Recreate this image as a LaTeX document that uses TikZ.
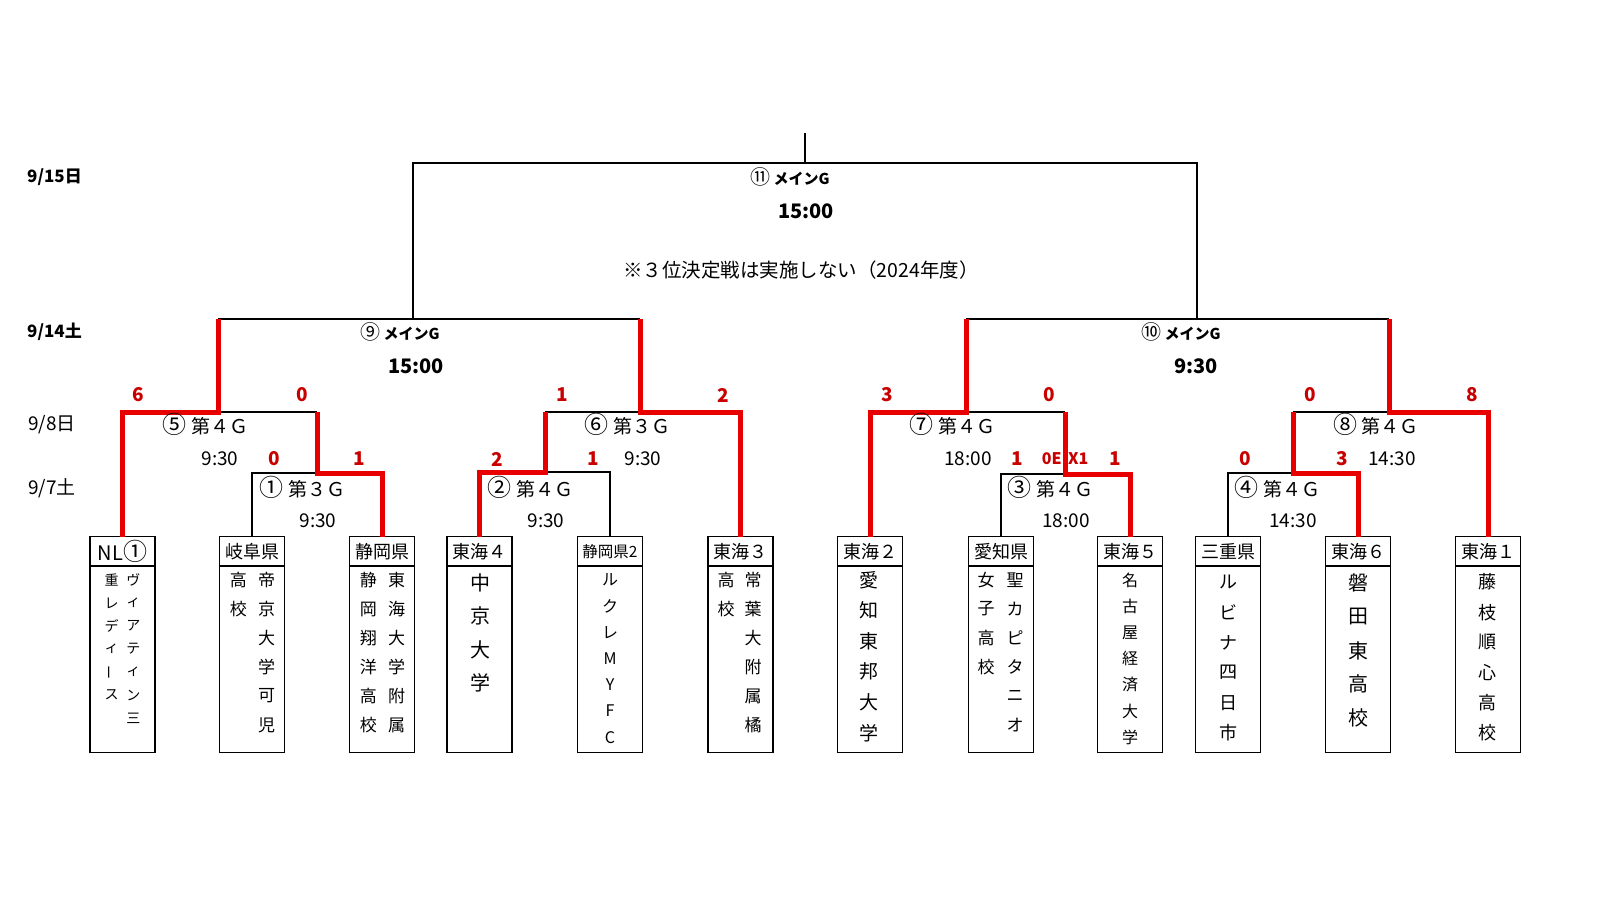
\documentclass[tikz,border=0pt]{standalone}
\usepackage{fontspec}
\setmainfont{Noto Sans CJK JP}
\usetikzlibrary{positioning}
\definecolor{winred}{RGB}{232,0,0}
\definecolor{scorered}{RGB}{200,0,0}
\newcommand{\gno}[2]{{\mdseries\fontsize{#1}{#1}\selectfont #2}}

\begin{document}
\begin{tikzpicture}[x=1pt,y=-1pt,
    lose/.style={line width=1.6pt},
    win/.style={winred,line width=5pt,line join=miter},
    teamhead/.style={draw,line width=1.6pt,minimum width=65pt,minimum height=29.3pt,inner sep=0pt,outer sep=0pt,font=\fontsize{18}{18}\selectfont},
    teambody/.style={draw,line width=1.6pt,minimum width=65pt,minimum height=186.7pt,inner sep=0pt,outer sep=0pt,below=0pt of #1},
    kana/.style={inner sep=0pt,font=\fontsize{#1}{#1}\selectfont},
    score/.style={inner sep=0pt,text=scorered,font=\bfseries\fontsize{19}{19}\selectfont},
    game/.style={inner sep=0pt,font=\fontsize{19}{19}\selectfont},
    mainlbl/.style={inner sep=0pt,font=\bfseries\fontsize{15}{15}\selectfont},
    maintime/.style={inner sep=0pt,font=\bfseries\fontsize{20}{20}\selectfont}]
    \useasboundingbox (0,0) rectangle (1600,900);

    % dates
    \node[anchor=west,inner sep=0pt,font=\bfseries\fontsize{17}{17}\selectfont] (d15) at (27,177) {9/15日};
    \node[anchor=west,inner sep=0pt,font=\bfseries\fontsize{17}{17}\selectfont] (d14) at (27,332) {9/14土};
    \node[anchor=west,game] (d8) at (28,425) {9/8日};
    \node[anchor=west,game] (d7) at (28,488) {9/7土};

    % teams
    \node[teamhead,font=\fontsize{20}{20}\selectfont] (nl) at (122.5,551.3) {NL\gno{24}{①}};
    \node[teambody=nl] (nl-b) {};
    \node[teamhead] (gifu)  at (252,551.3)  {岐阜県};
    \node[teambody=gifu] (gifu-b) {};
    \node[teamhead] (shz)   at (382,551.3)  {静岡県};
    \node[teambody=shz] (shz-b) {};
    \node[teamhead] (tk4)   at (479.7,551.3) {東海４};
    \node[teambody=tk4] (tk4-b) {};
    \node[teamhead,font=\fontsize{15.5}{15.5}\selectfont] (shz2) at (610,551.3) {静岡県2};
    \node[teambody=shz2] (shz2-b) {};
    \node[teamhead] (tk3)   at (740.3,551.3) {東海３};
    \node[teambody=tk3] (tk3-b) {};
    \node[teamhead] (tk2)   at (870,551.3)  {東海２};
    \node[teambody=tk2] (tk2-b) {};
    \node[teamhead] (aichi) at (1001,551.3) {愛知県};
    \node[teambody=aichi] (aichi-b) {};
    \node[teamhead] (tk5)   at (1130,551.3) {東海５};
    \node[teambody=tk5] (tk5-b) {};
    \node[teamhead] (mie)   at (1228,551.3) {三重県};
    \node[teambody=mie] (mie-b) {};
    \node[teamhead] (tk6)   at (1358,551.3) {東海６};
    \node[teambody=tk6] (tk6-b) {};
    \node[teamhead] (tk1)   at (1488,551.3) {東海１};
    \node[teambody=tk1] (tk1-b) {};

    % team names, written top to bottom
    \foreach \ch [count=\i from 0] in {ヴ,ィ,ア,テ,ィ,ン,三}
        \node[kana=14] (nl-r\i) at (133.3,580+23*\i) {\ch};
    \foreach \ch [count=\i from 0] in {重,レ,デ,ィ,\rotatebox{90}{ー},ス}
        \node[kana=14] (nl-l\i) at (111.7,580+23*\i) {\ch};
    \foreach \ch [count=\i from 0] in {帝,京,大,学,可,児}
        \node[kana=17] (gifu-r\i) at (266.7,580+29*\i) {\ch};
    \foreach \ch [count=\i from 0] in {高,校}
        \node[kana=17] (gifu-l\i) at (238.3,580+29*\i) {\ch};
    \foreach \ch [count=\i from 0] in {東,海,大,学,附,属}
        \node[kana=17] (shz-r\i) at (396.7,580+29*\i) {\ch};
    \foreach \ch [count=\i from 0] in {静,岡,翔,洋,高,校}
        \node[kana=17] (shz-l\i) at (368.3,580+29*\i) {\ch};
    \foreach \ch [count=\i from 0] in {中,京,大,学}
        \node[kana=20] (tk4-c\i) at (480,583+33.3*\i) {\ch};
    \foreach \ch [count=\i from 0] in {ル,ク,レ,M,Y,F,C}
        \node[kana=16] (shz2-c\i) at (610,580+26.2*\i) {\ch};
    \foreach \ch [count=\i from 0] in {常,葉,大,附,属,橘}
        \node[kana=17] (tk3-r\i) at (753,580+29*\i) {\ch};
    \foreach \ch [count=\i from 0] in {高,校}
        \node[kana=17] (tk3-l\i) at (726,580+29*\i) {\ch};
    \foreach \ch [count=\i from 0] in {愛,知,東,邦,大,学}
        \node[kana=19] (tk2-c\i) at (869,580+30.6*\i) {\ch};
    \foreach \ch [count=\i from 0] in {聖,カ,ピ,タ,ニ,オ}
        \node[kana=17] (aichi-r\i) at (1015,580+29*\i) {\ch};
    \foreach \ch [count=\i from 0] in {女,子,高,校}
        \node[kana=17] (aichi-l\i) at (986,580+29*\i) {\ch};
    \foreach \ch [count=\i from 0] in {名,古,屋,経,済,大,学}
        \node[kana=16] (tk5-c\i) at (1130,580+26.2*\i) {\ch};
    \foreach \ch [count=\i from 0] in {ル,ビ,ナ,四,日,市}
        \node[kana=18] (mie-c\i) at (1228,582+30.2*\i) {\ch};
    \foreach \ch [count=\i from 0] in {磐,田,東,高,校}
        \node[kana=20] (tk6-c\i) at (1358,583+33.7*\i) {\ch};
    \foreach \ch [count=\i from 0] in {藤,枝,順,心,高,校}
        \node[kana=18] (tk1-c\i) at (1487,582+30.2*\i) {\ch};

    % junctions
    \coordinate (g1) at (317,473);
    \coordinate (g2) at (545,472);
    \coordinate (g3) at (1065,474);
    \coordinate (g4) at (1293,473);
    \coordinate (g5) at (218,412);
    \coordinate (g6) at (640,412);
    \coordinate (g7) at (966,412);
    \coordinate (g8) at (1389,412);
    \coordinate (g9) at (413,319);
    \coordinate (g10) at (1197,319);
    \coordinate (g11) at (805,163);
    \coordinate (top) at (805,133);

    % bracket
    \draw[lose] (gifu.north) |- (g1);
    \draw[lose] (g1 |- g5) -- (g5);
    \draw[lose] (shz2.north) |- (g2);
    \draw[lose] (g2 |- g6) -- (g6);
    \draw[lose] (aichi.north) |- (g3);
    \draw[lose] (g3 |- g7) -- (g7);
    \draw[lose] (mie.north) |- (g4);
    \draw[lose] (g4 |- g8) -- (g8);
    \draw[lose] (g5 |- g9) -- (g6 |- g9);
    \draw[lose] (g7 |- g10) -- (g8 |- g10);
    \draw[lose] (g9) |- (g11) -| (g10);
    \draw[lose] (g11) -- (top);

    \draw[win] (nl.north) |- (g5) -- (g5 |- g9);
    \draw[win] (shz.north) |- (g1) -- (g1 |- g5);
    \draw[win] (tk4.north) |- (g2) -- (g2 |- g6);
    \draw[win] (tk3.north) |- (g6) -- (g6 |- g9);
    \draw[win] (tk2.north) |- (g7) -- (g7 |- g10);
    \draw[win] (tk5.north) |- (g3) -- (g3 |- g7);
    \draw[win] (tk6.north) |- (g4) -- (g4 |- g8);
    \draw[win] (tk1.north) |- (g8) -- (g8 |- g10);

    % games
    \node[mainlbl] (m11) at (790,177) {\gno{20}{⑪}\ メインG};
    \node[maintime] (t11) at (806,211) {15:00};
    \node[game,font=\fontsize{19.5}{19.5}\selectfont] (note) at (801,270) {※３位決定戦は実施しない（2024年度）};
    \node[mainlbl] (m9) at (400,331.5) {\gno{20}{⑨}\ メインG};
    \node[maintime] (t9) at (416,366) {15:00};
    \node[mainlbl] (m10) at (1181,331.5) {\gno{20}{⑩}\ メインG};
    \node[maintime] (t10) at (1196,366) {9:30};

    \node[game] (m5) at (205.5,424) {\gno{24}{⑤}\ 第４Ｇ};
    \node[game] (t5) at (220,459) {9:30};
    \node[game] (m6) at (627.5,424) {\gno{24}{⑥}\ 第３Ｇ};
    \node[game] (t6) at (643,459) {9:30};
    \node[game] (m7) at (952.5,424) {\gno{24}{⑦}\ 第４Ｇ};
    \node[game] (t7) at (968,459) {18:00};
    \node[game] (m8) at (1376,424) {\gno{24}{⑧}\ 第４Ｇ};
    \node[game] (t8) at (1392,459) {14:30};

    \node[game] (m1) at (302.5,487) {\gno{24}{①}\ 第３Ｇ};
    \node[game] (t1) at (318,520.5) {9:30};
    \node[game] (m2) at (530.5,487) {\gno{24}{②}\ 第４Ｇ};
    \node[game] (t2) at (546,520.5) {9:30};
    \node[game] (m3) at (1050.5,487) {\gno{24}{③}\ 第４Ｇ};
    \node[game] (t3) at (1066,520.5) {18:00};
    \node[game] (m4) at (1277.5,487) {\gno{24}{④}\ 第４Ｇ};
    \node[game] (t4) at (1293,520.5) {14:30};

    % scores
    \node[score] (s5a) at (138,395) {6};
    \node[score] (s5b) at (302,395) {0};
    \node[score] (s6a) at (562,395) {1};
    \node[score] (s6b) at (723,395) {2};
    \node[score] (s7a) at (887,395) {3};
    \node[score] (s7b) at (1049,395) {0};
    \node[score] (s8a) at (1310,395) {0};
    \node[score] (s8b) at (1472,395) {8};
    \node[score] (s1a) at (274,459) {0};
    \node[score] (s1b) at (359,459) {1};
    \node[score] (s2a) at (497,459) {2};
    \node[score] (s2b) at (593,459) {1};
    \node[score] (s3a) at (1017,459) {1};
    \node[score,anchor=east,font=\bfseries\fontsize{16}{16}\selectfont] (s3e) at (1062,459) {0E};
    \node[score,anchor=west,font=\bfseries\fontsize{16}{16}\selectfont] (s3x) at (1068,459) {X1};
    \node[score] (s3b) at (1115,459) {1};
    \node[score] (s4a) at (1245,459) {0};
    \node[score] (s4b) at (1342,459) {3};
\end{tikzpicture}
\end{document}
